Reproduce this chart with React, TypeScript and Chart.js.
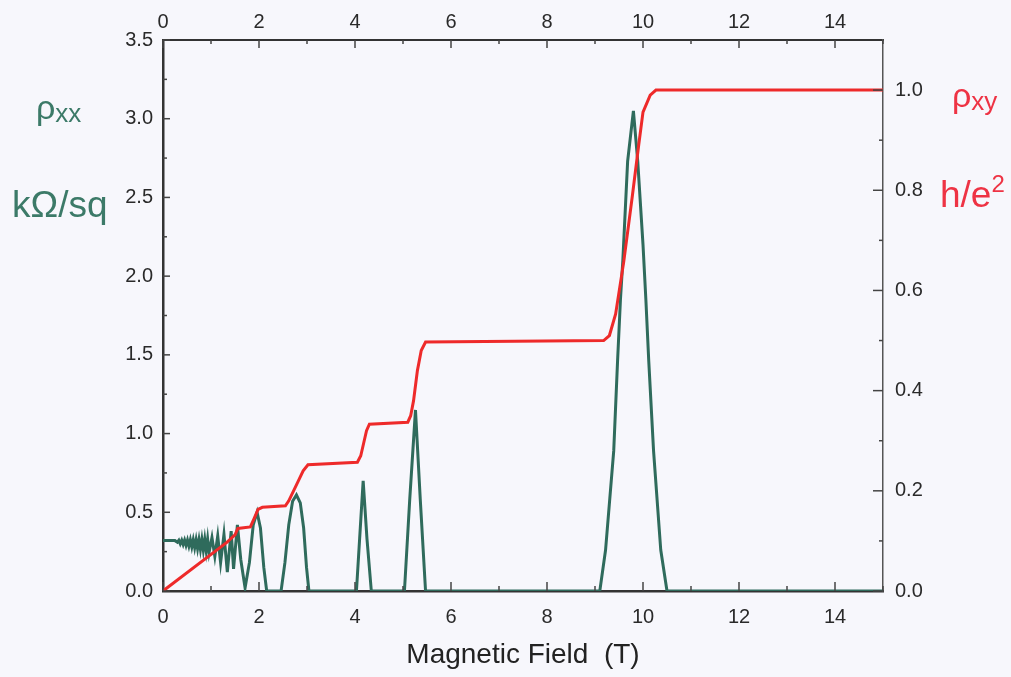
import React, { useEffect, useRef } from "react";
import { Chart, registerables } from "chart.js";

Chart.register(...registerables);

// rho_xx (kOhm/sq) vs magnetic field (T)
const RXX_B = [
  0.0, 0.25, 0.3, 0.33, 0.36, 0.39, 0.42, 0.45, 0.48, 0.51, 0.54, 0.57, 0.6, 0.63, 0.66, 0.69,
  0.72, 0.75, 0.78, 0.81, 0.84, 0.87, 0.9, 0.93, 0.96, 1.02, 1.08, 1.14, 1.2, 1.27, 1.34, 1.42,
  1.47, 1.55, 1.62, 1.71, 1.8, 1.88, 1.96, 2.03, 2.1, 2.16, 2.46, 2.54, 2.62, 2.7,
  2.78, 2.86, 2.93, 2.99, 3.04, 4.03, 4.1, 4.17, 4.25, 4.34, 5.03, 5.14, 5.26, 5.36, 5.47,
  9.1, 9.22, 9.39, 9.47, 9.53, 9.58, 9.68, 9.8, 9.89, 10.0, 10.06, 10.12, 10.22, 10.37, 10.5, 15.0,
];
const RXX_V = [
  0.32, 0.32, 0.31, 0.322, 0.3, 0.322, 0.295, 0.323, 0.29, 0.323, 0.285, 0.324, 0.28, 0.325, 0.275, 0.325,
  0.27, 0.326, 0.265, 0.327, 0.26, 0.328, 0.255, 0.33, 0.245, 0.34, 0.22, 0.35, 0.18, 0.36, 0.12, 0.38,
  0.14, 0.42, 0.2, 0.02, 0.18, 0.42, 0.5, 0.4, 0.15, 0.0, 0.0, 0.18, 0.42, 0.57,
  0.61, 0.56, 0.4, 0.15, 0.0, 0.0, 0.35, 0.7, 0.33, 0.0, 0.0, 0.58, 1.15, 0.58, 0.0,
  0.0, 0.26, 0.89, 1.46, 1.85, 2.1, 2.73, 3.05, 2.73, 2.2, 1.85, 1.46, 0.89, 0.26, 0.0, 0.0,
];

// rho_xy (h/e^2) vs magnetic field (T)
const RXY_B = [
  0.0, 1.33, 1.5, 1.56, 1.82, 1.9, 1.98, 2.07, 2.55, 2.62, 2.72, 2.82, 2.92, 3.02, 4.05, 4.12,
  4.18, 4.24, 4.3, 5.1, 5.16, 5.22, 5.3, 5.38, 5.47, 9.18, 9.3, 9.43, 9.6, 9.78, 9.91, 10.0,
  10.15, 10.27, 15.0,
];
const RXY_V = [
  0.0, 0.097, 0.112, 0.125, 0.128, 0.145, 0.163, 0.167, 0.17, 0.18, 0.2, 0.22, 0.24, 0.252, 0.257, 0.27,
  0.295, 0.32, 0.333, 0.337, 0.35, 0.38, 0.44, 0.48, 0.497, 0.5, 0.51, 0.553, 0.658, 0.79, 0.89, 0.956,
  0.99, 1.0, 1.0,
];

const X_MAJOR = [0, 2, 4, 6, 8, 10, 12, 14];
const X_MINOR = [1, 3, 5, 7, 9, 11, 13, 15];
const L_MAJOR = [0, 0.5, 1.0, 1.5, 2.0, 2.5, 3.0, 3.5];
const L_MINOR = [0.25, 0.75, 1.25, 1.75, 2.25, 2.75, 3.25];
const R_MAJOR = [0, 0.2, 0.4, 0.6, 0.8, 1.0];
const R_MINOR = [0.1, 0.3, 0.5, 0.7, 0.9];

const FONT = "'Liberation Sans', Arial, sans-serif";
const GREEN = "#2f6b5c";
const RED = "#ee2a2a";
const TEXT_GREEN = "#3c7a68";
const TEXT_RED = "#ee3344";

const inwardTicks = {
  id: "inwardTicks",
  afterDraw(chart: any) {
    const { ctx, chartArea: a, scales } = chart;
    ctx.save();
    ctx.strokeStyle = "#444";
    ctx.lineWidth = 1.5;
    const line = (x1: number, y1: number, x2: number, y2: number) => {
      ctx.beginPath();
      ctx.moveTo(x1, y1);
      ctx.lineTo(x2, y2);
      ctx.stroke();
    };
    X_MAJOR.forEach((v) => {
      const p = scales.x.getPixelForValue(v);
      line(p, a.bottom, p, a.bottom - 9);
      line(p, a.top, p, a.top + 8);
    });
    X_MINOR.forEach((v) => {
      const p = scales.x.getPixelForValue(v);
      line(p, a.bottom, p, a.bottom - 5);
      line(p, a.top, p, a.top + 4);
    });
    L_MAJOR.forEach((v) => {
      const p = scales.y.getPixelForValue(v);
      line(a.left, p, a.left + 7, p);
    });
    L_MINOR.forEach((v) => {
      const p = scales.y.getPixelForValue(v);
      line(a.left, p, a.left + 4, p);
    });
    R_MAJOR.forEach((v) => {
      const p = scales.y2.getPixelForValue(v);
      line(a.right, p, a.right - 10, p);
    });
    R_MINOR.forEach((v) => {
      const p = scales.y2.getPixelForValue(v);
      line(a.right, p, a.right - 4, p);
    });
    ctx.restore();
  },
};

export default function App() {
  const ref = useRef<HTMLCanvasElement | null>(null);

  useEffect(() => {
    if (!ref.current) return;
    const tickFont = { family: FONT, size: 20 };
    const chart = new Chart(ref.current, {
      type: "line",
      data: {
        datasets: [
          {
            label: "ρxy",
            data: RXY_B.map((b, i) => ({ x: b, y: RXY_V[i] })),
            xAxisID: "x",
            yAxisID: "y2",
            borderColor: RED,
            borderWidth: 3,
            pointRadius: 0,
            tension: 0,
            order: 0,
          },
          {
            label: "ρxx",
            data: RXX_B.map((b, i) => ({ x: b, y: RXX_V[i] })),
            xAxisID: "x",
            yAxisID: "y",
            borderColor: GREEN,
            borderWidth: 3,
            pointRadius: 0,
            tension: 0,
            order: 1,
          },
        ],
      },
      options: {
        responsive: false,
        animation: false,
        devicePixelRatio: 1,
        layout: { padding: 0 },
        plugins: { legend: { display: false }, tooltip: { enabled: false } },
        scales: {
          x: {
            type: "linear",
            position: "bottom",
            min: 0,
            max: 15,
            afterBuildTicks: (s: any) => {
              s.ticks = X_MAJOR.map((v) => ({ value: v }));
            },
            afterFit: (s: any) => {
              s.height = 86;
            },
            grid: { display: false, drawTicks: false },
            border: { display: true, color: "#333", width: 2.5 },
            ticks: { color: "#2a2a2a", font: tickFont, padding: 14, maxRotation: 0, callback: (v: any) => String(v) },
            title: {
              display: true,
              text: "Magnetic Field  (T)",
              color: "#222",
              font: { family: FONT, size: 28 },
              padding: { top: 0, bottom: 5 },
            },
          },
          x2: {
            type: "linear",
            position: "top",
            min: 0,
            max: 15,
            afterBuildTicks: (s: any) => {
              s.ticks = X_MAJOR.map((v) => ({ value: v }));
            },
            afterFit: (s: any) => {
              s.height = 40;
            },
            grid: { display: false, drawTicks: false },
            border: { display: true, color: "#333", width: 2 },
            ticks: { color: "#2a2a2a", font: tickFont, padding: 6, maxRotation: 0, callback: (v: any) => String(v) },
          },
          y: {
            type: "linear",
            position: "left",
            min: 0,
            max: 3.5,
            afterBuildTicks: (s: any) => {
              s.ticks = L_MAJOR.map((v) => ({ value: v }));
            },
            afterFit: (s: any) => {
              s.width = 163;
            },
            grid: { display: false, drawTicks: false },
            border: { display: true, color: "#333", width: 2.5 },
            ticks: { color: "#2a2a2a", font: tickFont, padding: 10, callback: (v: any) => Number(v).toFixed(1) },
          },
          y2: {
            type: "linear",
            position: "right",
            min: 0,
            max: 1.1,
            afterBuildTicks: (s: any) => {
              s.ticks = R_MAJOR.map((v) => ({ value: v }));
            },
            afterFit: (s: any) => {
              s.width = 128;
            },
            grid: { display: false, drawTicks: false },
            border: { display: true, color: "#555", width: 1.5 },
            ticks: { color: "#2a2a2a", font: tickFont, padding: 12, callback: (v: any) => Number(v).toFixed(1) },
          },
        },
      },
      plugins: [inwardTicks],
    } as any);
    return () => chart.destroy();
  }, []);

  const lab: React.CSSProperties = { position: "absolute", fontFamily: FONT, lineHeight: 1, whiteSpace: "nowrap" };

  return (
    <div style={{ position: "fixed", left: 0, top: 0, width: 1011, height: 677, background: "#f7f7fc", overflow: "hidden" }}>
      <canvas ref={ref} width={1011} height={677} style={{ position: "absolute", left: 0, top: 0 }} />
      <div style={{ ...lab, left: 36, top: 90, fontSize: 34, color: TEXT_GREEN }}>
        ρ<span style={{ fontSize: 26, position: "relative", top: 3 }}>xx</span>
      </div>
      <div style={{ ...lab, left: 12, top: 186, fontSize: 37, color: TEXT_GREEN }}>kΩ/sq</div>
      <div style={{ ...lab, left: 952, top: 78, fontSize: 34, color: TEXT_RED }}>
        ρ<span style={{ fontSize: 26, position: "relative", top: 3 }}>xy</span>
      </div>
      <div style={{ ...lab, left: 940, top: 174, fontSize: 37, color: TEXT_RED }}>
        h/e<sup style={{ fontSize: 24, position: "relative", top: -2, verticalAlign: "super" }}>2</sup>
      </div>
    </div>
  );
}
